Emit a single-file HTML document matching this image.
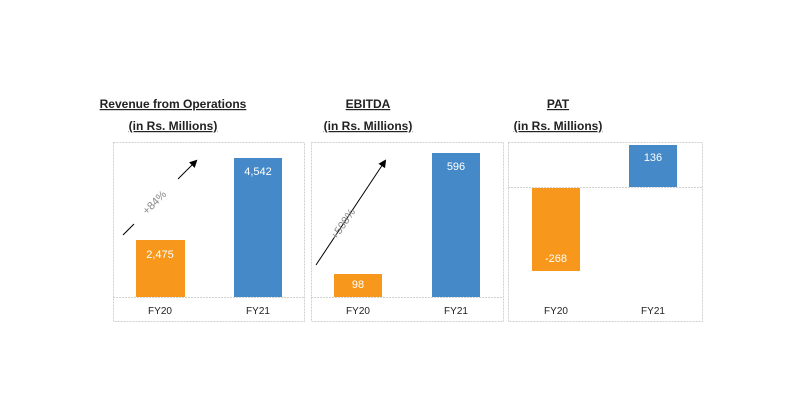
<!DOCTYPE html>
<html><head><meta charset="utf-8"><style>
body{margin:0;background:#fff;}
svg{display:block;font-family:"Liberation Sans",Arial,sans-serif;}
</style></head><body>
<svg width="800" height="400" viewBox="0 0 800 400">
<defs><marker id="ah" markerWidth="8" markerHeight="8" refX="6" refY="4" orient="auto"><path d="M0,0 L8,4 L0,8 Z" fill="#000"/></marker></defs>
<g font-weight="bold" font-size="12" text-anchor="middle" fill="#222">
<text x="173" y="108" text-decoration="underline">Revenue from Operations</text>
<text x="173" y="130" text-decoration="underline">(in Rs. Millions)</text>
<text x="368" y="108" text-decoration="underline">EBITDA</text>
<text x="368" y="130" text-decoration="underline">(in Rs. Millions)</text>
<text x="558" y="108" text-decoration="underline">PAT</text>
<text x="558" y="130" text-decoration="underline">(in Rs. Millions)</text>
</g>
<g fill="none" stroke="#d0d0d0" stroke-width="1" stroke-dasharray="2,1">
<rect x="113.5" y="142.5" width="191" height="179"/>
<rect x="311.5" y="142.5" width="192" height="179"/>
<rect x="508.5" y="142.5" width="194" height="179"/>
<line x1="113" y1="297.5" x2="304" y2="297.5"/>
<line x1="311" y1="297.5" x2="503" y2="297.5"/>
<line x1="508" y1="187.5" x2="702" y2="187.5"/>
</g>
<rect x="136" y="240" width="49" height="57" fill="#F7981D"/>
<rect x="234" y="158" width="48" height="139" fill="#4589C8"/>
<rect x="334" y="274" width="48" height="23" fill="#F7981D"/>
<rect x="432" y="153" width="48" height="144" fill="#4589C8"/>
<rect x="532" y="188" width="48" height="83" fill="#F7981D"/>
<rect x="629" y="145" width="48" height="42" fill="#4589C8"/>
<g fill="#fff" font-size="11" text-anchor="middle">
<text x="160" y="258">2,475</text>
<text x="258" y="175">4,542</text>
<text x="358" y="288">98</text>
<text x="456" y="170">596</text>
<text x="556" y="262">-268</text>
<text x="653" y="161">136</text>
</g>
<g fill="#222" font-size="10" text-anchor="middle">
<text x="160" y="314">FY20</text><text x="258" y="314">FY21</text>
<text x="358" y="314">FY20</text><text x="456" y="314">FY21</text>
<text x="556" y="314">FY20</text><text x="653" y="314">FY21</text>
</g>
<g stroke="#000" stroke-width="1" fill="none">
<line x1="123" y1="235" x2="134" y2="224"/>
<line x1="178" y1="179" x2="196" y2="161" marker-end="url(#ah)"/>
<line x1="316" y1="265" x2="385" y2="161" marker-end="url(#ah)"/>
</g>
<text x="157" y="205" font-size="11" fill="#888" text-anchor="middle" transform="rotate(-45 157 205)">+84%</text>
<text x="346" y="226" font-size="11" fill="#888" text-anchor="middle" transform="rotate(-56 346 226)">+508%</text>
</svg>
</body></html>
